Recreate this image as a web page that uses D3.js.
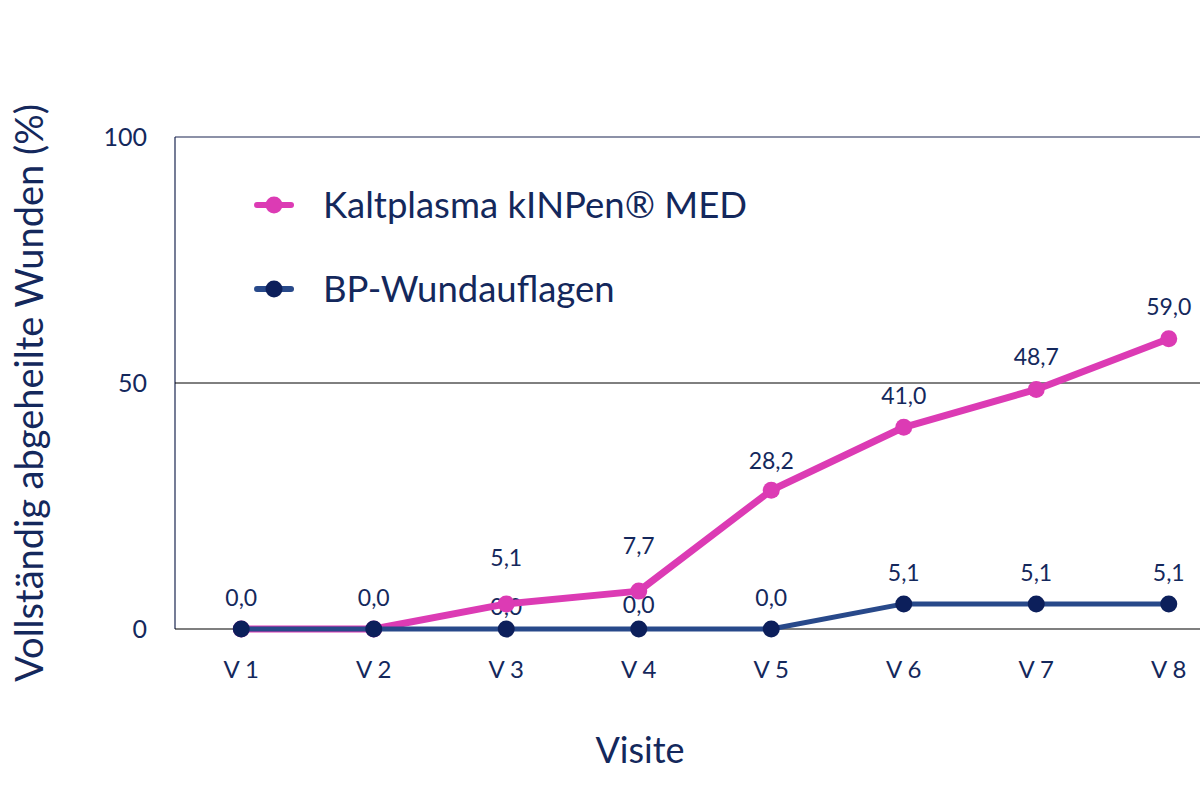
<!DOCTYPE html>
<html>
<head>
<meta charset="utf-8">
<script src="https://cdn.jsdelivr.net/npm/d3@7"></script>
<style>
  body { margin: 0; background: #fff; }
  text { font-family: Lato, "Noto Sans", sans-serif; fill: #14285c; }
</style>
</head>
<body>
<svg id="chart" width="1200" height="800"></svg>
<script>
// Visits and % completely healed wounds per arm
var visits = ["V 1", "V 2", "V 3", "V 4", "V 5", "V 6", "V 7", "V 8"];
var plasmaValues = [0, 0, 5.1, 7.7, 28.2, 41.0, 48.7, 59.0];
var bpValues = [0, 0, 0, 0, 0, 5.1, 5.1, 5.1];
var yTicks = [0, 50, 100];
var seriesNames = ["Kaltplasma kINPen\u00AE MED", "BP-Wundauflagen"];

var PINK = "#dc3bb4", NAVY = "#0c1f5b", BLUE = "#28498a";

var svg = d3.select("#chart");
var plotLeft = 175, plotTop = 137, plotBottom = 629;

// plot area runs past the right edge in the original
var x = d3.scaleBand().domain(visits).range([plotLeft, plotLeft + 132.5 * 8]);
var y = d3.scaleLinear().domain([0, 100]).range([plotBottom, plotTop]);
var cx = function(d, i) { return x(visits[i]) + x.bandwidth() / 2; };

// frame + gridline
svg.append("line").attr("x1", plotLeft).attr("x2", 1200).attr("y1", y(100)).attr("y2", y(100))
  .attr("stroke", "#1a2550").attr("stroke-width", 1.2);
svg.append("line").attr("x1", plotLeft).attr("x2", plotLeft).attr("y1", y(100)).attr("y2", y(0))
  .attr("stroke", "#1a2550").attr("stroke-width", 1.2);
svg.append("line").attr("x1", plotLeft).attr("x2", 1200).attr("y1", y(50)).attr("y2", y(50))
  .attr("stroke", "#000").attr("stroke-width", 1);
svg.append("line").attr("x1", plotLeft).attr("x2", 1200).attr("y1", y(0)).attr("y2", y(0))
  .attr("stroke", "#000").attr("stroke-width", 1.2);

// y ticks
var yAxis = svg.append("g").attr("transform", "translate(" + (plotLeft - 28) + ",0)")
  .call(d3.axisLeft(y).tickValues(yTicks).tickSize(0).tickPadding(0));
yAxis.select(".domain").remove();
yAxis.selectAll("text").style("font-size", "25px").style("fill", "#14285c")
  .style("font-family", "Lato, 'Noto Sans', sans-serif");

// x ticks
var xAxis = svg.append("g").attr("transform", "translate(0," + (plotBottom + 32) + ")")
  .call(d3.axisBottom(x).tickSize(0).tickPadding(0));
xAxis.select(".domain").remove();
xAxis.selectAll("text").style("font-size", "24px").style("fill", "#14285c")
  .style("font-family", "Lato, 'Noto Sans', sans-serif");

// axis titles
svg.append("text").attr("transform", "translate(30," + (y(50) + 10) + ") rotate(-90)")
  .attr("text-anchor", "middle").attr("dy", "0.35em").style("font-size", "38px")
  .text("Vollst\u00E4ndig abgeheilte Wunden (%)");
svg.append("text").attr("x", 640).attr("y", 763).attr("text-anchor", "middle")
  .style("font-size", "36px").text("Visite");

var line = d3.line().x(cx).y(function(d) { return y(d); });

// label offsets (text centre above point), hand placed in the original
var plasmaOff = [30, 30, 46, 45, 29, 31, 32, 32];
var bpOff = [31, 31, 22, 24, 31, 31, 31, 31];

function labels(vals, offs, skip) {
  svg.append("g").selectAll("text").data(vals).join("text")
    .attr("x", cx).attr("y", function(d, i) { return y(d) - offs[i]; })
    .attr("dy", "0.35em").attr("text-anchor", "middle").style("font-size", "23px")
    .text(function(d, i) { return skip && skip(d, i) ? "" : d.toFixed(1).replace(".", ","); });
}

labels(bpValues, bpOff);

// Kaltplasma series
svg.append("path").datum(plasmaValues).attr("d", line).attr("fill", "none")
  .attr("stroke", PINK).attr("stroke-width", 7).attr("stroke-linejoin", "round");
svg.append("g").selectAll("circle").data(plasmaValues).join("circle")
  .attr("cx", cx).attr("cy", function(d) { return y(d); }).attr("r", 8.5).attr("fill", PINK);

// BP series
svg.append("path").datum(bpValues).attr("d", line).attr("fill", "none")
  .attr("stroke", BLUE).attr("stroke-width", 5).attr("stroke-linejoin", "round");
svg.append("g").selectAll("circle").data(bpValues).join("circle")
  .attr("cx", cx).attr("cy", function(d) { return y(d); }).attr("r", 8.5).attr("fill", NAVY);

// where both arms share a value only one label shows
labels(plasmaValues, plasmaOff, function(d, i) { return d === bpValues[i]; });

// legend
var legend = svg.append("g");
[[PINK, PINK], [BLUE, NAVY]].forEach(function(c, i) {
  var ly = 205 + i * 84;
  legend.append("line").attr("x1", 257).attr("x2", 291).attr("y1", ly).attr("y2", ly)
    .attr("stroke", c[0]).attr("stroke-width", 6).attr("stroke-linecap", "round");
  legend.append("circle").attr("cx", 274).attr("cy", ly).attr("r", 8.5).attr("fill", c[1]);
  legend.append("text").attr("x", 323).attr("y", ly).attr("dy", "0.36em")
    .style("font-size", "36.5px").text(seriesNames[i]);
});
</script>
</body>
</html>
